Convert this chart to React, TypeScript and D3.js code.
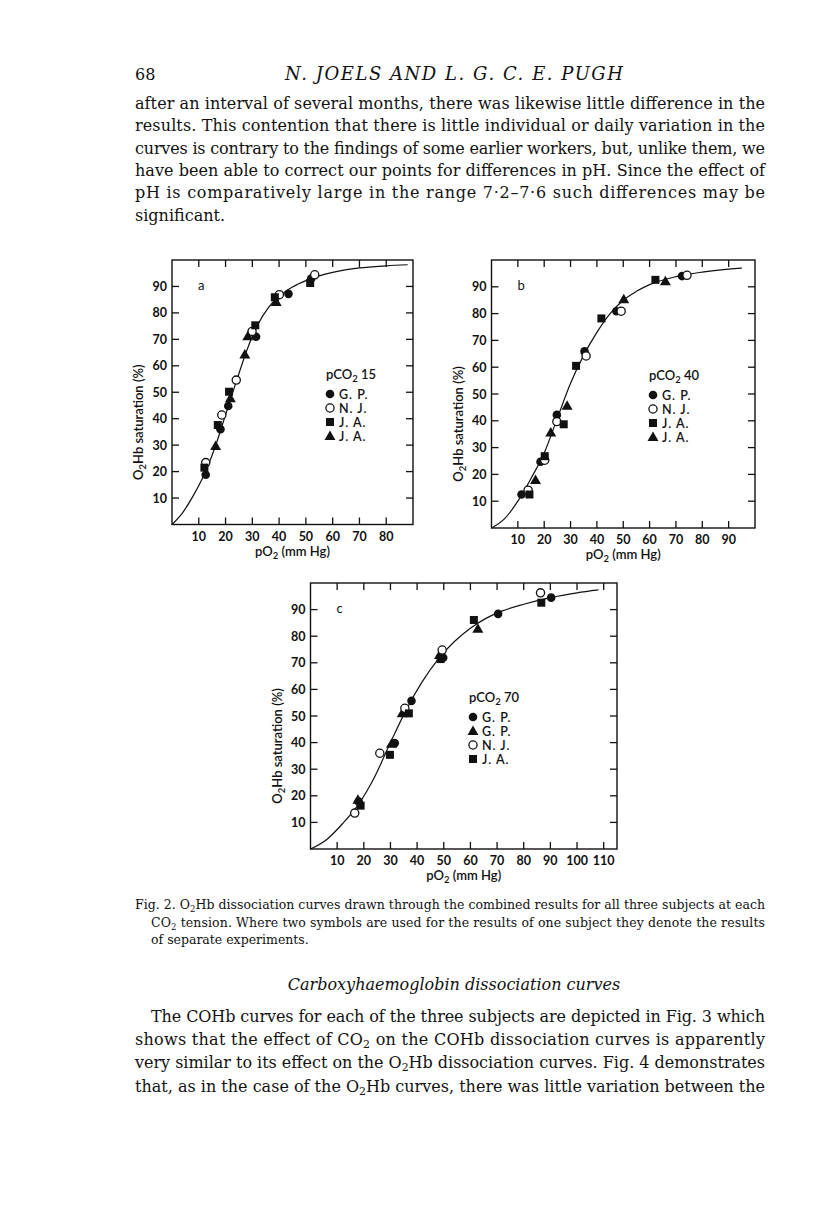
import React from "react";
import * as d3 from "d3";

// ---- data (pO2 mm Hg, O2Hb saturation %) ----
type Pt = [number, number];

// panel a, pCO2 15
const aGP: Pt[] = [[12.6, 18.8], [18.1, 36.0], [21.0, 44.8], [31.4, 71.0], [43.5, 87.2], [52.0, 93.0]];
const aNJ: Pt[] = [[12.6, 23.4], [18.6, 41.4], [24.0, 54.6], [29.9, 73.0], [40.1, 86.9], [53.3, 94.4]];
const aJAsq: Pt[] = [[12.1, 21.5], [17.1, 37.6], [21.3, 50.2], [31.1, 75.3], [38.4, 85.9], [51.6, 91.3]];
const aJAtri: Pt[] = [[16.3, 29.7], [21.8, 47.7], [27.2, 64.3], [28.3, 71.2], [38.9, 84.1]];
const aCurve: Pt[] = [[0, 0], [4, 4.5], [8, 11], [12, 18.8], [16, 29], [20, 41.5], [24, 54], [28, 66], [32, 75.5], [36, 82], [40, 86.3], [45, 89.8], [50, 92.2], [55, 94], [60, 95.3], [70, 97], [80, 97.8], [88, 98.2]];

// panel b, pCO2 40
const bGP: Pt[] = [[11.4, 12.5], [18.6, 24.7], [24.8, 42.2], [35.3, 65.9], [47.4, 80.9], [72.3, 94.0]];
const bNJ: Pt[] = [[13.9, 14.1], [20.2, 25.3], [24.8, 39.7], [35.9, 64.2], [49.2, 80.9], [74.2, 94.3]];
const bJAsq: Pt[] = [[14.4, 12.5], [20.2, 26.8], [27.4, 38.7], [32.1, 60.5], [41.7, 78.2], [62.2, 92.6]];
const bJAtri: Pt[] = [[16.7, 17.9], [22.5, 35.6], [28.7, 45.6], [50.2, 85.3], [66.0, 92.1]];
const bCurve: Pt[] = [[0, 0], [5, 3.5], [10, 10], [15, 18.5], [20, 28], [25, 41], [30, 54], [35, 64.5], [40, 73], [45, 80], [50, 85], [55, 88.3], [60, 90.8], [70, 93.8], [80, 95.5], [90, 96.6], [95, 97]];

// panel c, pCO2 70
const cGP: Pt[] = [[18.1, 17.8], [31.6, 39.8], [37.9, 55.7], [49.8, 71.9], [70.4, 88.4], [90.3, 94.5]];
const cGPtri: Pt[] = [[17.8, 18.5], [30.4, 39.6], [34.4, 51.0], [48.4, 72.9], [62.8, 82.8]];
const cNJ: Pt[] = [[16.6, 13.5], [26.0, 36.0], [35.4, 52.9], [49.4, 74.8], [86.3, 96.3]];
const cJAsq: Pt[] = [[18.8, 16.3], [29.8, 35.4], [36.9, 51.0], [48.8, 71.4], [61.3, 86.1], [86.6, 92.6]];
const cCurve: Pt[] = [[0, 0], [6, 3.5], [12, 9.5], [18, 16.8], [24, 27], [30, 40], [36, 52.5], [42, 63], [48, 71.5], [54, 78], [60, 83], [66, 86.8], [72, 89.5], [80, 92], [90, 94.5], [100, 96.3], [108, 97.4]];

const yTicks = [10, 20, 30, 40, 50, 60, 70, 80, 90];
const xTicksA = [10, 20, 30, 40, 50, 60, 70, 80];
const xTicksB = [10, 20, 30, 40, 50, 60, 70, 80, 90];
const xTicksC = [10, 20, 30, 40, 50, 60, 70, 80, 90, 100, 110];

const sans = "Lato, 'DejaVu Sans', sans-serif";
const serif = "'DejaVu Serif', 'Liberation Serif', serif";

type Shape = "dot" | "open" | "square" | "tri";

const Marker = ({ x, y, shape }: { x: number; y: number; shape: Shape }) => {
  if (shape === "dot") return <circle cx={x} cy={y} r={4.3} fill="#111" />;
  if (shape === "open") return <circle cx={x} cy={y} r={4.1} fill="#fff" stroke="#111" strokeWidth={1.3} />;
  if (shape === "square") return <rect x={x - 4} y={y - 4} width={8} height={8} fill="#111" />;
  return <path d={d3.symbol(d3.symbolTriangle, 52)()!} transform={`translate(${x},${y + 0.8})`} fill="#111" />;
};

type Series = { pts: Pt[]; shape: Shape; label: string };

const Panel = (p: {
  left: number; right: number; top: number; bottom: number; xMax: number;
  xTicks: number[]; curve: Pt[]; series: Series[]; legend: Series[];
  letter: string; pco2: string; legX: number; legY: number;
}) => {
  const x = d3.scaleLinear().domain([0, p.xMax]).range([p.left, p.right]);
  const y = d3.scaleLinear().domain([0, 100]).range([p.bottom, p.top]);
  const line = d3.line<Pt>().x(d => x(d[0])).y(d => y(d[1])).curve(d3.curveMonotoneX);
  const tl = 7;
  const midY = (p.top + p.bottom) / 2 + 30;
  return (
    <g>
      <rect x={p.left} y={p.top} width={p.right - p.left} height={p.bottom - p.top} fill="none" stroke="#111" strokeWidth={1.4} />
      {p.xTicks.map(t => (
        <g key={"x" + t}>
          <line x1={x(t)} x2={x(t)} y1={p.bottom} y2={p.bottom - tl} stroke="#111" strokeWidth={1.3} />
          <line x1={x(t)} x2={x(t)} y1={p.top} y2={p.top + tl} stroke="#111" strokeWidth={1.3} />
          <text x={x(t)} y={p.bottom + 16} textAnchor="middle" fontFamily={sans} fontWeight={700} fontSize={12.5} fill="#111">{t}</text>
        </g>
      ))}
      {yTicks.map(t => (
        <g key={"y" + t}>
          <line x1={p.left} x2={p.left + tl} y1={y(t)} y2={y(t)} stroke="#111" strokeWidth={1.3} />
          <line x1={p.right} x2={p.right - tl} y1={y(t)} y2={y(t)} stroke="#111" strokeWidth={1.3} />
          <text x={p.left - 5} y={y(t) + 4.5} textAnchor="end" fontFamily={sans} fontWeight={700} fontSize={12.5} fill="#111">{t}</text>
        </g>
      ))}
      <path d={line(p.curve)!} fill="none" stroke="#111" strokeWidth={1.2} />
      {p.series.map((s, i) => s.pts.map((d, j) => <Marker key={i + "-" + j} x={x(d[0])} y={y(d[1])} shape={s.shape} />))}
      <text x={p.left + 26} y={p.top + 30} fontFamily={sans} fontSize={13} fill="#111">{p.letter}</text>
      <text x={(p.left + p.right) / 2} y={p.bottom + 31} textAnchor="middle" fontFamily={sans} fontWeight={600} fontSize={13} fill="#111">
        pO<tspan dy={3} fontSize={9.5}>2</tspan><tspan dy={-3}> (mm Hg)</tspan>
      </text>
      <text transform={`translate(${p.left - 29},${midY}) rotate(-90)`} textAnchor="middle" fontFamily={sans} fontWeight={600} fontSize={13} fill="#111">
        O<tspan dy={3} fontSize={9.5}>2</tspan><tspan dy={-3}>Hb saturation (%)</tspan>
      </text>
      <text x={p.legX} y={p.legY} fontFamily={sans} fontWeight={600} fontSize={13} fill="#111">
        pCO<tspan dy={3} fontSize={9.5}>2</tspan><tspan dy={-3}> {p.pco2}</tspan>
      </text>
      {p.legend.map((s, i) => (
        <g key={"l" + i}>
          <Marker x={p.legX + 4} y={p.legY + 15 + i * 14} shape={s.shape} />
          <text x={p.legX + 13} y={p.legY + 20 + i * 14} fontFamily={sans} fontWeight={600} fontSize={12.5} fill="#111" letterSpacing={1}>{s.label}</text>
        </g>
      ))}
    </g>
  );
};

const bodyTop = [
  "after an interval of several months, there was likewise little difference in the",
  "results. This contention that there is little individual or daily variation in the",
  "curves is contrary to the findings of some earlier workers, but, unlike them, we",
  "have been able to correct our points for differences in pH.  Since the effect of",
  "pH is comparatively large in the range 7·2–7·6 such differences may be",
];

const Sub = ({ c }: { c: string }) => (
  <tspan dy={3} fontSize="0.68em">{c}</tspan>
);

export default function App() {
  const seriesA: Series[] = [
    { pts: aGP, shape: "dot", label: "G. P." },
    { pts: aNJ, shape: "open", label: "N. J." },
    { pts: aJAsq, shape: "square", label: "J. A." },
    { pts: aJAtri, shape: "tri", label: "J. A." },
  ];
  const seriesB: Series[] = [
    { pts: bGP, shape: "dot", label: "G. P." },
    { pts: bNJ, shape: "open", label: "N. J." },
    { pts: bJAsq, shape: "square", label: "J. A." },
    { pts: bJAtri, shape: "tri", label: "J. A." },
  ];
  const seriesC: Series[] = [
    { pts: cGP, shape: "dot", label: "G. P." },
    { pts: cGPtri, shape: "tri", label: "G. P." },
    { pts: cNJ, shape: "open", label: "N. J." },
    { pts: cJAsq, shape: "square", label: "J. A." },
  ];
  const lh = 22.3;
  const fs = 16;
  return (
    <svg width={816} height={1221} style={{ position: "absolute", left: 0, top: 0, background: "#fff" }}>
      <rect width={816} height={1221} fill="#fff" />
      <text x={135} y={80} fontFamily={serif} fontSize={fs} fill="#111">68</text>
      <text x={454} y={80} textAnchor="middle" fontFamily={serif} fontStyle="italic" fontSize={18} fill="#111" textLength={338} lengthAdjust="spacing">N. JOELS AND L. G. C. E. PUGH</text>
      {bodyTop.map((s, i) => (
        <text key={i} x={135} y={109 + i * lh} fontFamily={serif} fontSize={fs} fill="#111" textLength={630} lengthAdjust="spacing">{s}</text>
      ))}
      <text x={135} y={109 + 5 * lh} fontFamily={serif} fontSize={fs} fill="#111">significant.</text>

      <Panel left={172} right={413} top={260} bottom={524.5} xMax={90} xTicks={xTicksA} curve={aCurve}
        series={seriesA} legend={seriesA} letter="a" pco2="15" legX={326} legY={379} />
      <Panel left={491.5} right={755} top={260} bottom={528} xMax={100} xTicks={xTicksB} curve={bCurve}
        series={seriesB} legend={seriesB} letter="b" pco2="40" legX={649} legY={380} />
      <Panel left={310.5} right={617} top={583} bottom={849} xMax={115} xTicks={xTicksC} curve={cCurve}
        series={seriesC} legend={seriesC} letter="c" pco2="70" legX={469} legY={702} />

      <text x={135} y={909} fontFamily={serif} fontSize={12.5} fill="#111" textLength={630} lengthAdjust="spacing">
        Fig. 2.  O<Sub c="2" /><tspan dy={-3}>Hb dissociation curves drawn through the combined results for all three subjects at each</tspan>
      </text>
      <text x={151} y={927} fontFamily={serif} fontSize={12.5} fill="#111" textLength={614} lengthAdjust="spacing">
        CO<Sub c="2" /><tspan dy={-3}> tension. Where two symbols are used for the results of one subject they denote the results</tspan>
      </text>
      <text x={151} y={944} fontFamily={serif} fontSize={12.5} fill="#111">of separate experiments.</text>

      <text x={454} y={990} textAnchor="middle" fontFamily={serif} fontStyle="italic" fontSize={16} fill="#111">Carboxyhaemoglobin dissociation curves</text>

      <text x={151} y={1022} fontFamily={serif} fontSize={fs} fill="#111" textLength={614} lengthAdjust="spacing">The COHb curves for each of the three subjects are depicted in Fig. 3 which</text>
      <text x={135} y={1022 + 23.2} fontFamily={serif} fontSize={fs} fill="#111" textLength={630} lengthAdjust="spacing">
        shows that the effect of CO<Sub c="2" /><tspan dy={-3}> on the COHb dissociation curves is apparently</tspan>
      </text>
      <text x={135} y={1022 + 46.4} fontFamily={serif} fontSize={fs} fill="#111" textLength={630} lengthAdjust="spacing">
        very similar to its effect on the O<Sub c="2" /><tspan dy={-3}>Hb dissociation curves.  Fig. 4 demonstrates</tspan>
      </text>
      <text x={135} y={1022 + 69.6} fontFamily={serif} fontSize={fs} fill="#111" textLength={630} lengthAdjust="spacing">
        that, as in the case of the O<Sub c="2" /><tspan dy={-3}>Hb curves, there was little variation between the</tspan>
      </text>
    </svg>
  );
}
